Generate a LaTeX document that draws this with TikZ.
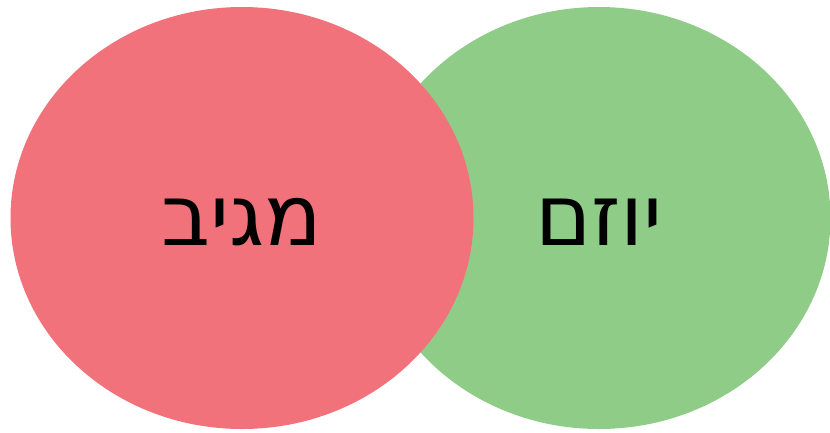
\documentclass[tikz,border=0pt]{standalone}
\usepackage{fontspec}
\usepackage{xcolor}
\usetikzlibrary{shapes.geometric}
\TeXXeTstate=1
\newfontfamily\hebfont[Script=Hebrew]{DejaVu Sans}
\definecolor{roseRed}{HTML}{F1727A}
\definecolor{leafGreen}{HTML}{8FCC87}

\begin{document}
\begin{tikzpicture}[x=1pt,y=-1pt,
  blob/.style={ellipse,inner sep=0pt,minimum width=463pt,minimum height=422pt,font=\hebfont\fontsize{85}{96}\selectfont}]
\useasboundingbox (0,0) rectangle (830,432);
\node[blob,fill=leafGreen] (initiator) at (599,218) {\raisebox{-4pt}[\height][\depth]{\beginR יוזם\endR}};
\node[blob,fill=roseRed] (responder) at (242,218) {\raisebox{-4pt}[\height][\depth]{\beginR מגיב\endR}};
\end{tikzpicture}
\end{document}
